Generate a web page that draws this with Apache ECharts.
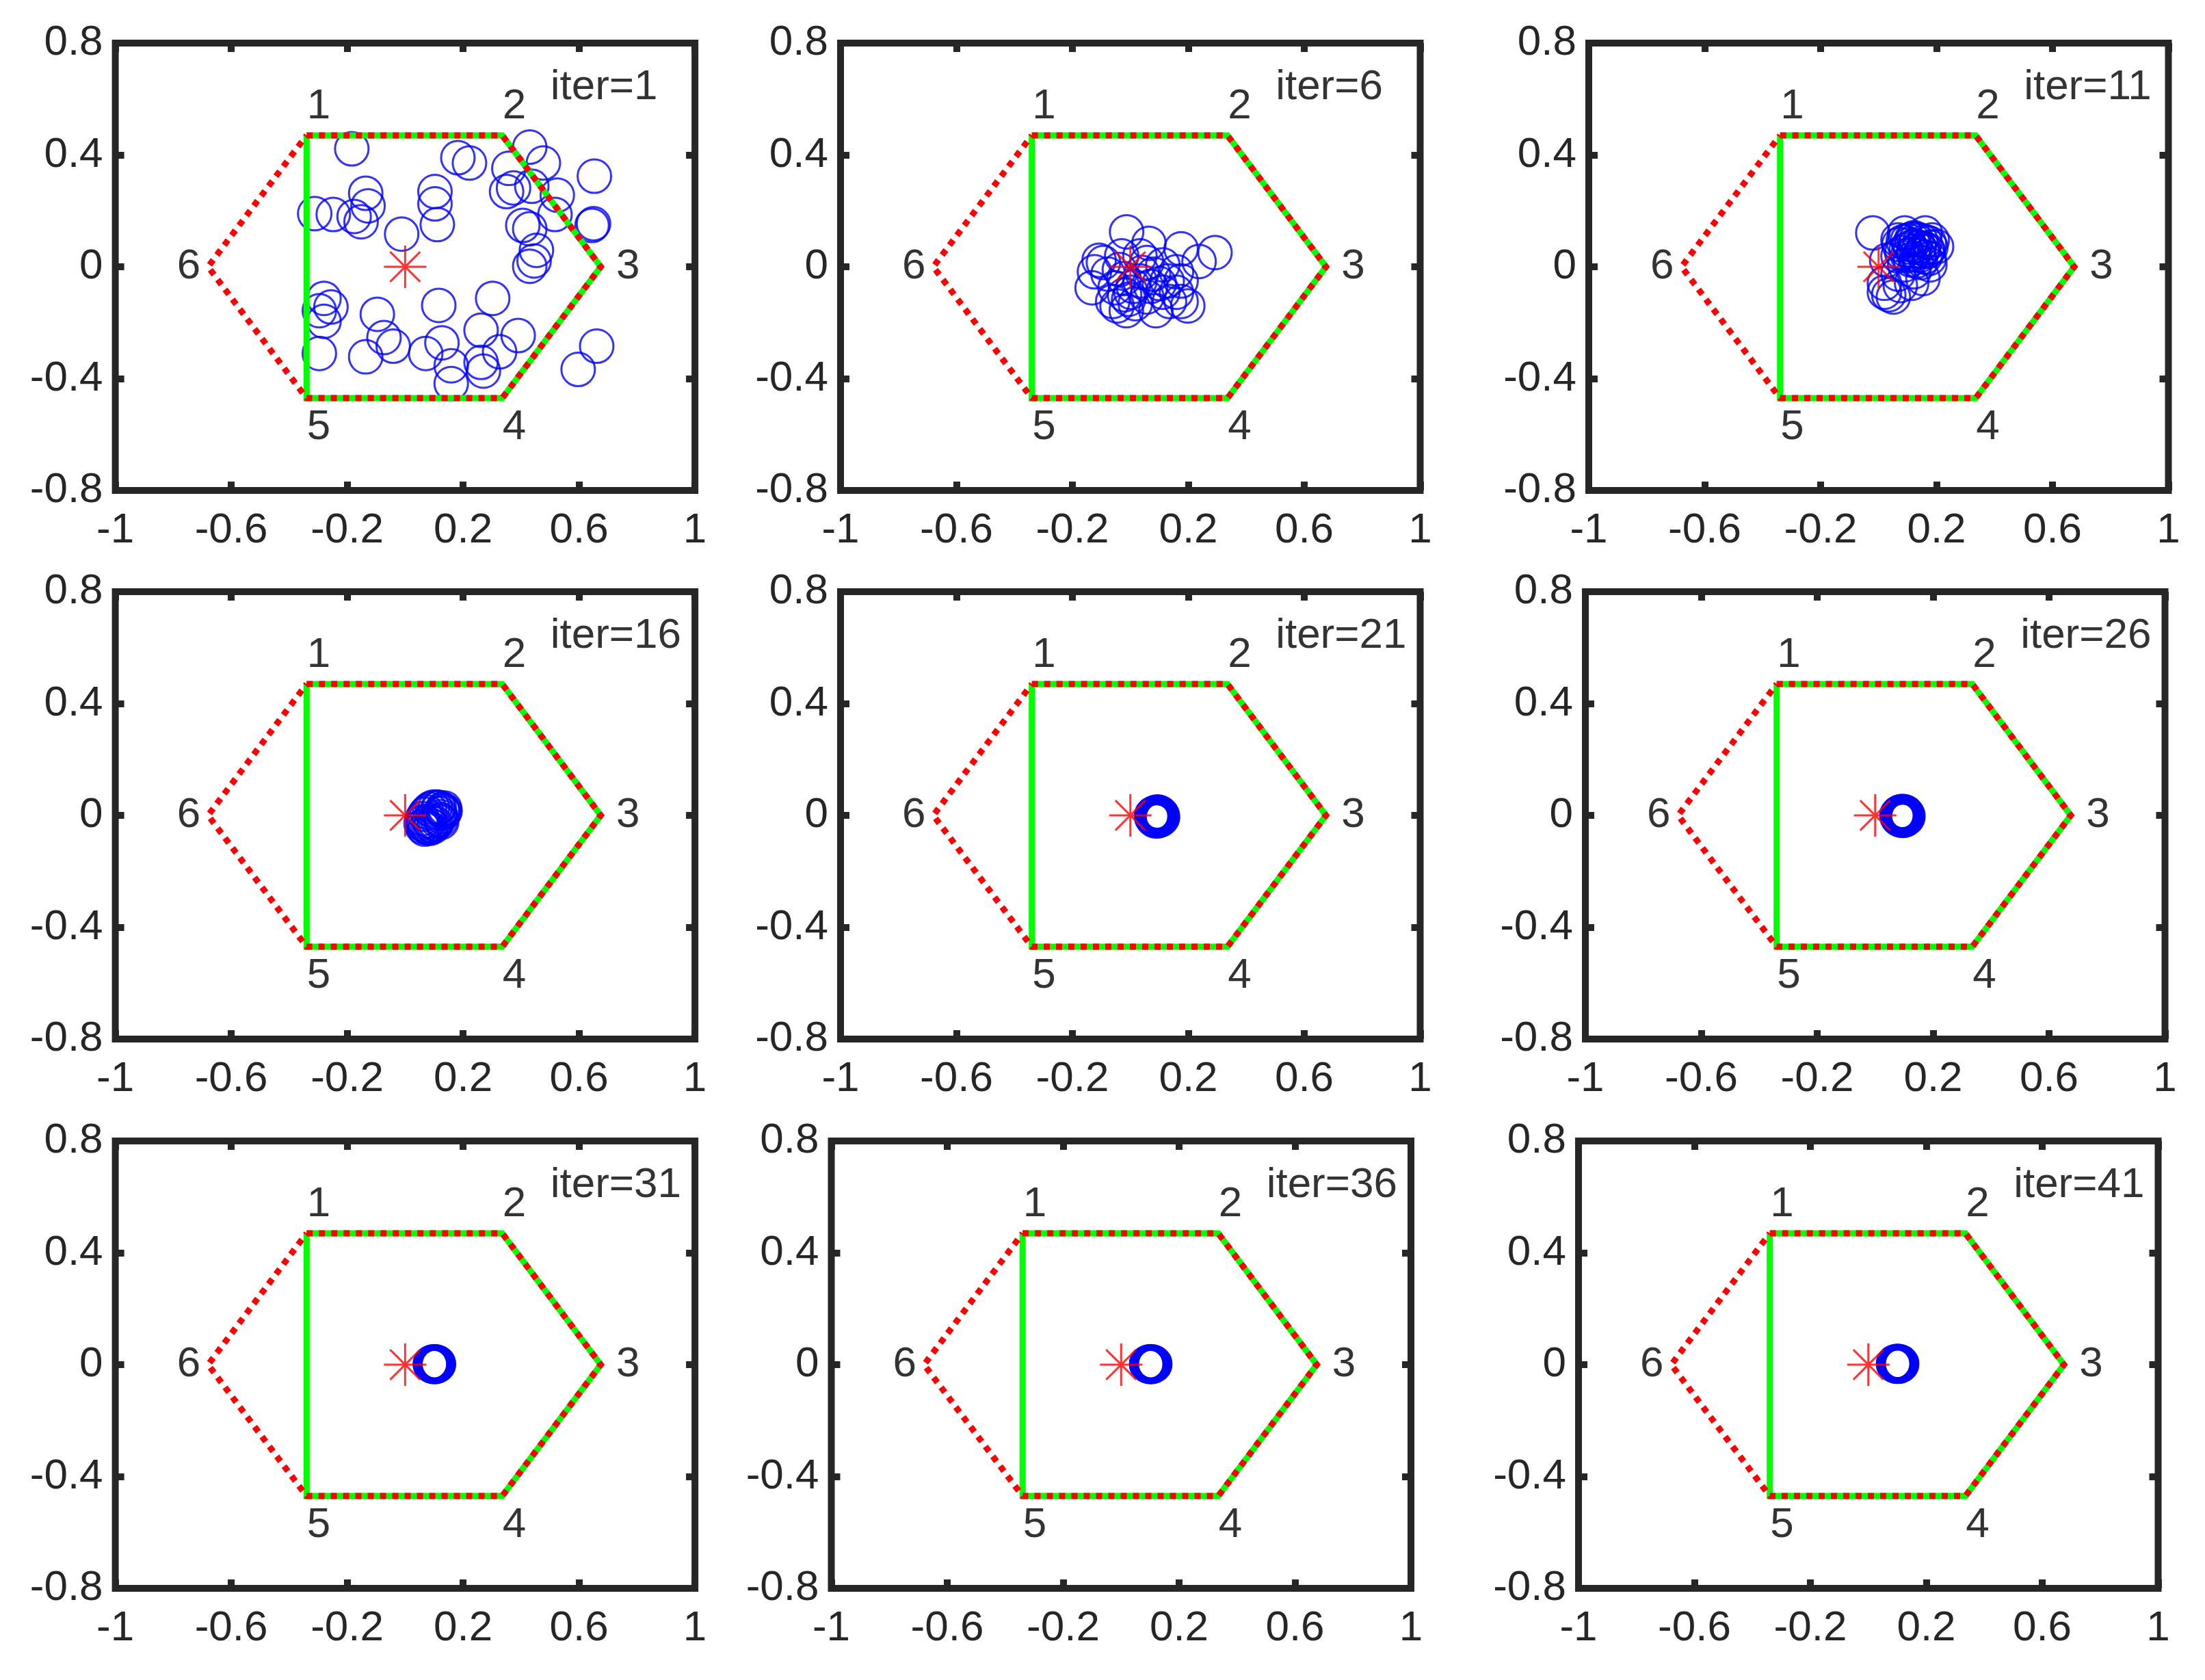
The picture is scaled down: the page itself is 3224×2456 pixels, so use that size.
<!DOCTYPE html>
<html>
<head>
<meta charset="utf-8">
<title>Particle iterations in the hexagon</title>
<script src="https://cdn.jsdelivr.net/npm/echarts@6/dist/echarts.min.js"></script>
<style>
	html, body { margin: 0; padding: 0; background: #ffffff; }
	#main { width: 3224px; height: 2456px; }
</style>
</head>
<body>
<div id="main"></div>
<script>
// corners of the hexagon, numbered as in the figure
const vertexNames = ['1', '2', '3', '4', '5', '6'];
const vertexX = [-0.34, 0.335, 0.675, 0.335, -0.34, -0.68];
const vertexY = [0.47, 0.47, 0, -0.47, -0.47, 0];
const pentagonOrder = [0, 1, 2, 3, 4, 0]; // green solid boundary
const hexagonOrder = [0, 1, 2, 3, 4, 5, 0]; // red dotted boundary
const target = [0, 0];

const xTicks = [-1, -0.6, -0.2, 0.2, 0.6, 1];
const yTicks = [-0.8, -0.4, 0, 0.4, 0.8];

const iterations = [1, 6, 11, 16, 21, 26, 31, 36, 41];

// particle positions
const particles1 = [
	[-0.184, 0.422], [0.182, 0.390], [0.222, 0.371], [0.358, 0.352], [0.430, 0.428],
	[0.477, 0.371], [0.653, 0.324], [0.103, 0.269], [0.103, 0.225], [0.111, 0.151],
	[-0.136, 0.263], [-0.128, 0.218], [-0.152, 0.161], [-0.176, 0.180], [-0.248, 0.187],
	[-0.312, 0.190], [-0.012, 0.117], [0.350, 0.269], [0.374, 0.282], [0.437, 0.288],
	[0.525, 0.256], [0.517, 0.187], [0.645, 0.148], [0.650, 0.154], [0.406, 0.148],
	[0.430, 0.136], [0.453, 0.059], [0.445, 0.021], [0.430, 0.002], [0.302, -0.113],
	[-0.280, -0.113], [-0.296, -0.157], [-0.256, -0.144], [-0.280, -0.195], [-0.096, -0.170],
	[0.116, -0.138], [0.262, -0.227], [0.390, -0.246], [-0.073, -0.253], [-0.041, -0.284],
	[-0.136, -0.322], [-0.296, -0.310], [0.071, -0.310], [0.127, -0.272], [0.159, -0.354],
	[0.159, -0.418], [0.262, -0.342], [0.270, -0.373], [0.326, -0.304], [0.661, -0.284],
	[0.597, -0.367]
];
const particles6 = [
	[-0.013, 0.125], [0.064, 0.084], [0.175, 0.064], [0.292, 0.051], [0.237, 0.019],
	[-0.108, 0.023], [-0.124, -0.018], [-0.132, -0.075], [-0.030, 0.039], [0.033, 0.039],
	[0.112, 0.007], [0.159, -0.018], [0.175, -0.051], [0.159, -0.091], [0.198, -0.140],
	[0.175, -0.124], [0.088, -0.157], [-0.014, -0.157], [-0.061, -0.124], [-0.053, -0.075],
	[0.002, -0.091], [0.057, -0.108], [0.033, -0.051], [-0.022, -0.042], [-0.077, -0.026],
	[0.080, -0.026], [0.112, -0.091], [0.017, -0.132], [-0.038, -0.010], [-0.093, 0.015],
	[0.127, -0.051], [0.057, 0.015], [-0.006, -0.116], [-0.046, -0.140], [0.135, -0.124],
	[0.010, -0.070], [0.070, -0.070], [-0.020, -0.100], [0.040, -0.020], [0.100, -0.060]
];
const particles11 = [
	[-0.020, 0.121], [0.067, 0.096], [0.122, 0.104], [0.185, 0.096], [0.200, 0.072],
	[0.169, 0.055], [0.122, 0.055], [0.067, 0.039], [0.145, 0.015], [0.177, 0.007],
	[0.153, -0.042], [0.114, -0.059], [0.067, -0.026], [0.028, 0.023], [0.020, -0.059],
	[0.035, -0.100], [0.051, -0.108], [0.020, -0.091], [0.090, 0.007], [0.106, 0.080],
	[0.161, 0.121], [0.075, -0.067], [0.122, -0.018], [0.090, 0.121],
	[0.070, 0.080], [0.085, 0.090], [0.100, 0.095], [0.115, 0.100], [0.130, 0.098],
	[0.145, 0.095], [0.160, 0.090], [0.175, 0.085], [0.180, 0.070], [0.170, 0.060],
	[0.155, 0.065], [0.140, 0.070], [0.125, 0.075], [0.110, 0.070], [0.095, 0.060],
	[0.080, 0.050], [0.100, 0.040], [0.120, 0.045], [0.140, 0.040], [0.160, 0.035],
	[0.175, 0.030], [0.130, 0.020], [0.110, 0.025], [0.150, 0.055]
];
const particles16 = [
	[0.059, -0.041], [0.067, -0.049], [0.079, -0.045], [0.090, -0.037], [0.106, -0.029],
	[0.122, -0.004], [0.130, 0.018], [0.136, 0.026], [0.134, 0.010], [0.114, 0.029],
	[0.094, 0.029], [0.075, 0.012], [0.059, -0.012], [0.083, -0.020], [0.126, -0.024],
	[0.055, -0.029], [0.064, -0.034], [0.072, -0.040], [0.086, -0.046], [0.098, -0.040],
	[0.112, -0.020], [0.120, 0.006], [0.128, 0.022], [0.118, 0.028], [0.104, 0.030],
	[0.084, 0.022], [0.068, 0.004], [0.062, -0.022], [0.100, -0.030], [0.116, -0.012],
	[0.138, 0.016], [0.124, -0.016]
];
const particles21 = [
	[0.111, -0.004], [0.109, 0.002], [0.105, 0.007], [0.099, 0.011], [0.092, 0.012],
	[0.085, 0.010], [0.079, 0.007], [0.074, 0.002], [0.073, -0.004], [0.075, -0.010],
	[0.079, -0.015], [0.085, -0.019], [0.092, -0.020], [0.099, -0.018], [0.105, -0.015],
	[0.110, -0.010], [0.102, -0.004], [0.099, 0.002], [0.092, 0.004], [0.085, 0.002],
	[0.083, -0.004], [0.086, -0.010], [0.092, -0.012], [0.099, -0.010], [0.092, -0.004]
];
const particles26 = [
	[0.113, -0.002], [0.111, 0.004], [0.107, 0.009], [0.101, 0.013], [0.094, 0.014],
	[0.087, 0.013], [0.081, 0.009], [0.076, 0.004], [0.075, -0.002], [0.077, -0.008],
	[0.081, -0.013], [0.087, -0.016], [0.094, -0.018], [0.101, -0.017], [0.107, -0.013],
	[0.112, -0.008], [0.104, -0.002], [0.101, 0.004], [0.094, 0.006], [0.087, 0.004],
	[0.085, -0.002], [0.088, -0.008], [0.094, -0.010], [0.101, -0.008], [0.094, -0.002]
];
const particles31 = [
	[0.115, 0.002], [0.114, 0.005], [0.111, 0.008], [0.106, 0.010], [0.101, 0.0105],
	[0.096, 0.010], [0.091, 0.008], [0.088, 0.005], [0.087, 0.002], [0.088, -0.001],
	[0.091, -0.004], [0.096, -0.006], [0.101, -0.0065], [0.106, -0.006], [0.111, -0.004],
	[0.114, -0.001], [0.108, 0.002], [0.106, 0.006], [0.101, 0.006], [0.096, 0.006],
	[0.094, 0.002], [0.096, -0.002], [0.101, -0.002], [0.106, -0.002], [0.101, 0.002]
];
const particles36 = [
	[0.116, 0.002], [0.115, 0.005], [0.112, 0.008], [0.107, 0.010], [0.102, 0.0105],
	[0.097, 0.010], [0.092, 0.008], [0.089, 0.005], [0.088, 0.002], [0.089, -0.001],
	[0.092, -0.004], [0.097, -0.006], [0.102, -0.0065], [0.107, -0.006], [0.112, -0.004],
	[0.115, -0.001], [0.109, 0.002], [0.107, 0.006], [0.102, 0.006], [0.097, 0.006],
	[0.095, 0.002], [0.097, -0.002], [0.102, -0.002], [0.107, -0.002], [0.102, 0.002]
];
const particles41 = [
	[0.115, 0.003], [0.114, 0.006], [0.111, 0.009], [0.106, 0.011], [0.101, 0.0115],
	[0.096, 0.011], [0.091, 0.009], [0.088, 0.006], [0.087, 0.003], [0.088, 0.000],
	[0.091, -0.003], [0.096, -0.005], [0.101, -0.0055], [0.106, -0.005], [0.111, -0.003],
	[0.114, 0.000], [0.108, 0.003], [0.106, 0.007], [0.101, 0.007], [0.096, 0.007],
	[0.094, 0.003], [0.096, -0.001], [0.101, -0.001], [0.106, -0.001], [0.101, 0.003]
];
const particles = [
	particles1, particles6, particles11, particles16, particles21,
	particles26, particles31, particles36, particles41
];

const fontFamily = 'Liberation Sans, Arial, Helvetica, sans-serif';
const axisColor = '#262626';

// panel boxes in pixels (rows x columns)
const panelW = 847.5;
const panelH = 654;
const panelTop = [63, 865, 1668];
const panelLeft = [
	[168.6, 1229, 2323],
	[168.6, 1229, 2318],
	[168.6, 1215.5, 2308]
];

// where each corner number sits relative to its corner
const labelOffsets = [[0, -42], [0, -42], [22, 0], [0, 43], [0, 43], [-46, 0]];

const tickFormat = (v) => String(Math.round(v * 10) / 10);

const grids = [];
const xAxes = [];
const yAxes = [];
const series = [];

iterations.forEach((iter, i) => {
	const row = Math.floor(i / 3);
	const col = i % 3;
	grids.push({
		left: panelLeft[row][col],
		top: panelTop[row],
		width: panelW,
		height: panelH,
		show: true,
		borderColor: axisColor,
		borderWidth: 10,
		backgroundColor: 'transparent'
	});

	['bottom', 'top'].forEach((pos) => {
		xAxes.push({
			gridIndex: i,
			type: 'value',
			position: pos,
			min: xTicks[0],
			max: xTicks[xTicks.length - 1],
			interval: xTicks[1] - xTicks[0],
			axisLine: { show: false, onZero: false },
			axisTick: { show: true, inside: true, length: 13, lineStyle: { color: axisColor, width: 10 } },
			axisLabel: {
				show: pos === 'bottom',
				margin: 28,
				fontSize: 62,
				fontFamily: fontFamily,
				color: axisColor,
				showMinLabel: true,
				showMaxLabel: true,
				hideOverlap: false,
				formatter: tickFormat
			},
			splitLine: { show: false }
		});
	});

	['left', 'right'].forEach((pos) => {
		yAxes.push({
			gridIndex: i,
			type: 'value',
			position: pos,
			min: yTicks[0],
			max: yTicks[yTicks.length - 1],
			interval: yTicks[1] - yTicks[0],
			axisLine: { show: false, onZero: false },
			axisTick: { show: true, inside: true, length: 13, lineStyle: { color: axisColor, width: 10 } },
			axisLabel: {
				show: pos === 'left',
				margin: 18,
				fontSize: 62,
				fontFamily: fontFamily,
				color: axisColor,
				showMinLabel: true,
				showMaxLabel: true,
				hideOverlap: false,
				formatter: tickFormat
			},
			splitLine: { show: false }
		});
	});

	const axisRef = { xAxisIndex: 2 * i, yAxisIndex: 2 * i };

	series.push({
		...axisRef,
		type: 'scatter',
		data: particles[i],
		symbol: 'circle',
		symbolSize: 49,
		itemStyle: { color: 'rgba(0,0,0,0)', borderColor: '#0000ff', borderWidth: 3 },
		z: 2
	});

	series.push({
		...axisRef,
		type: 'line',
		data: pentagonOrder.map((k) => [vertexX[k], vertexY[k]]),
		symbol: 'none',
		lineStyle: { color: '#00ff00', width: 9, cap: 'butt', join: 'miter' },
		z: 3
	});

	series.push({
		...axisRef,
		type: 'line',
		data: hexagonOrder.map((k) => [vertexX[k], vertexY[k]]),
		symbol: 'none',
		lineStyle: { color: '#ff0000', width: 9, type: [9, 9], cap: 'butt', join: 'miter' },
		z: 4
	});

	series.push({
		...axisRef,
		type: 'scatter',
		data: [target],
		symbol: 'path://M0,-10L0,10M-10,0L10,0M-7.07,-7.07L7.07,7.07M-7.07,7.07L7.07,-7.07',
		symbolSize: 62,
		itemStyle: { color: 'rgba(0,0,0,0)', borderColor: '#ff0000', borderWidth: 3 },
		z: 5
	});

	series.push({
		...axisRef,
		type: 'scatter',
		data: vertexNames.map((name, k) => ({
			name: name,
			value: [vertexX[k], vertexY[k]],
			label: { offset: labelOffsets[k] }
		})),
		symbolSize: 1,
		itemStyle: { color: 'rgba(0,0,0,0)' },
		label: {
			show: true,
			position: 'right',
			distance: 0,
			formatter: '{b}',
			fontSize: 62,
			fontFamily: fontFamily,
			color: '#000000'
		},
		z: 6
	});

	series.push({
		...axisRef,
		type: 'scatter',
		data: [{ name: 'iter=' + iter, value: [0.5, 0.64] }],
		symbolSize: 1,
		itemStyle: { color: 'rgba(0,0,0,0)' },
		label: {
			show: true,
			position: 'right',
			distance: 0,
			formatter: '{b}',
			fontSize: 62,
			fontFamily: fontFamily,
			color: '#000000'
		},
		z: 6
	});
});

const myChart = echarts.init(document.getElementById('main'), null, { renderer: 'canvas' });
myChart.setOption({
	animation: false,
	backgroundColor: '#ffffff',
	grid: grids,
	xAxis: xAxes,
	yAxis: yAxes,
	series: series.map((s) => ({ ...s, silent: true, emphasis: { disabled: true } }))
});
</script>
</body>
</html>
